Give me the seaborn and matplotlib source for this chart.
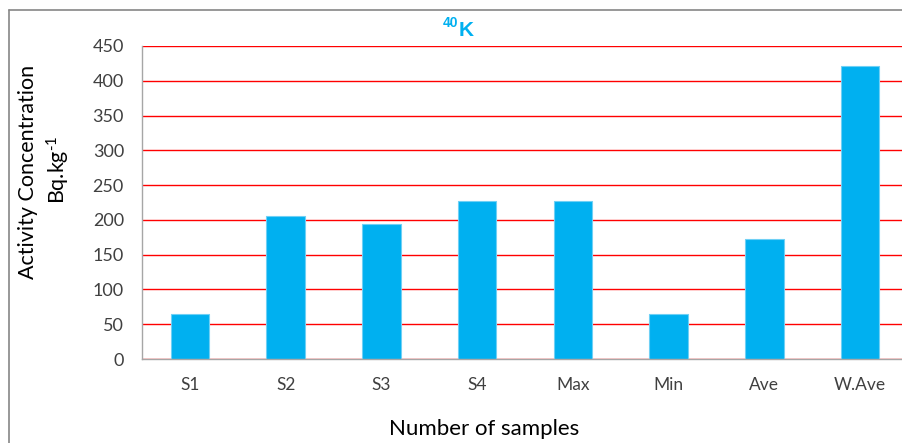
import matplotlib
matplotlib.use("Agg")
import matplotlib.pyplot as plt
from matplotlib.lines import Line2D
import seaborn as sns
import pandas as pd

# Data
samples = ["S1", "S2", "S3", "S4", "Max", "Min", "Ave", "W.Ave"]
activity = [64, 205, 194, 227, 227, 64, 173, 421]
y_ticks = [0, 50, 100, 150, 200, 250, 300, 350, 400, 450]

W, H, DPI = 903, 443, 100

sns.set_style("white")
plt.rcParams["font.family"] = ["Lato", "DejaVu Sans"]
plt.rcParams["mathtext.fontset"] = "custom"
plt.rcParams["mathtext.rm"] = "Lato"
plt.rcParams["mathtext.it"] = "Lato:italic"
plt.rcParams["mathtext.bf"] = "Lato:bold"

df = pd.DataFrame({"sample": samples, "activity": activity})

fig = plt.figure(figsize=(W / DPI, H / DPI), dpi=DPI)
# axes box in pixel terms: left 142, right 908, top 46, bottom 359
ax = fig.add_axes([142 / W, 1 - 359 / H, (908 - 142) / W, (359 - 46) / H])

sns.barplot(data=df, x="sample", y="activity", color="#00B0F0", width=0.4,
            edgecolor="#6FD0F5", linewidth=0.8, saturation=1, ax=ax)

ax.set_ylim(0, 450)
ax.set_xlim(-0.5, len(samples) - 0.5)
ax.set_yticks(y_ticks)
ax.yaxis.grid(True, color="#FF0000", linewidth=1.0)
ax.xaxis.grid(False)
ax.set_axisbelow(True)

axis_grey = "#A6A6A6"
for side in ["top", "right"]:
    ax.spines[side].set_visible(False)
for side in ["left", "bottom"]:
    ax.spines[side].set_color(axis_grey)
    ax.spines[side].set_linewidth(1.0)

ax.set_xticks(range(len(samples)))
ax.set_xticklabels(samples)
ax.set_xticks([i - 0.5 for i in range(len(samples) + 1)], minor=True)
ax.tick_params(axis="x", which="major", length=0, pad=13, labelsize=12.5,
               labelcolor="#404040")
ax.tick_params(axis="x", which="minor", length=4.5, width=1, color=axis_grey,
               direction="out")
ax.tick_params(axis="y", length=5, width=1, color=axis_grey, pad=8,
               labelsize=13, labelcolor="#404040", direction="out")
ax.set_xlabel("")
ax.set_ylabel("")

# title: 40K with superscripted mass number
title_col = "#00B0F0"
fig.text(459 / W, 1 - 36 / H, "K", color=title_col, fontsize=15,
         fontweight="bold", family=["Liberation Sans"], ha="left", va="baseline")
fig.text(458 / W, 1 - 27 / H, "40", color=title_col, fontsize=10,
         fontweight="bold", family=["Liberation Sans"], ha="right", va="baseline")

# axis titles
fig.text(28.5 / W, 1 - 171.5 / H, "Activity Concentration", rotation=90,
         fontsize=15.5, ha="center", va="center", color="#000000")
fig.text(58 / W, 1 - 170 / H, r"Bq.kg$^{\text{-1}}$", rotation=90,
         fontsize=15.5, ha="center", va="center", color="#000000")
fig.text(484.5 / W, 1 - 435 / H, "Number of samples", fontsize=16,
         ha="center", va="baseline", color="#000000")

# chart frame
frame_col = "#868686"
fig.add_artist(Line2D([9 / W, 9 / W], [0, 1 - 10 / H], color=frame_col,
                      linewidth=1.2, transform=fig.transFigure))
fig.add_artist(Line2D([9 / W, 1], [1 - 10 / H, 1 - 10 / H], color=frame_col,
                      linewidth=1.2, transform=fig.transFigure))

fig.savefig("out.png", dpi=DPI)
